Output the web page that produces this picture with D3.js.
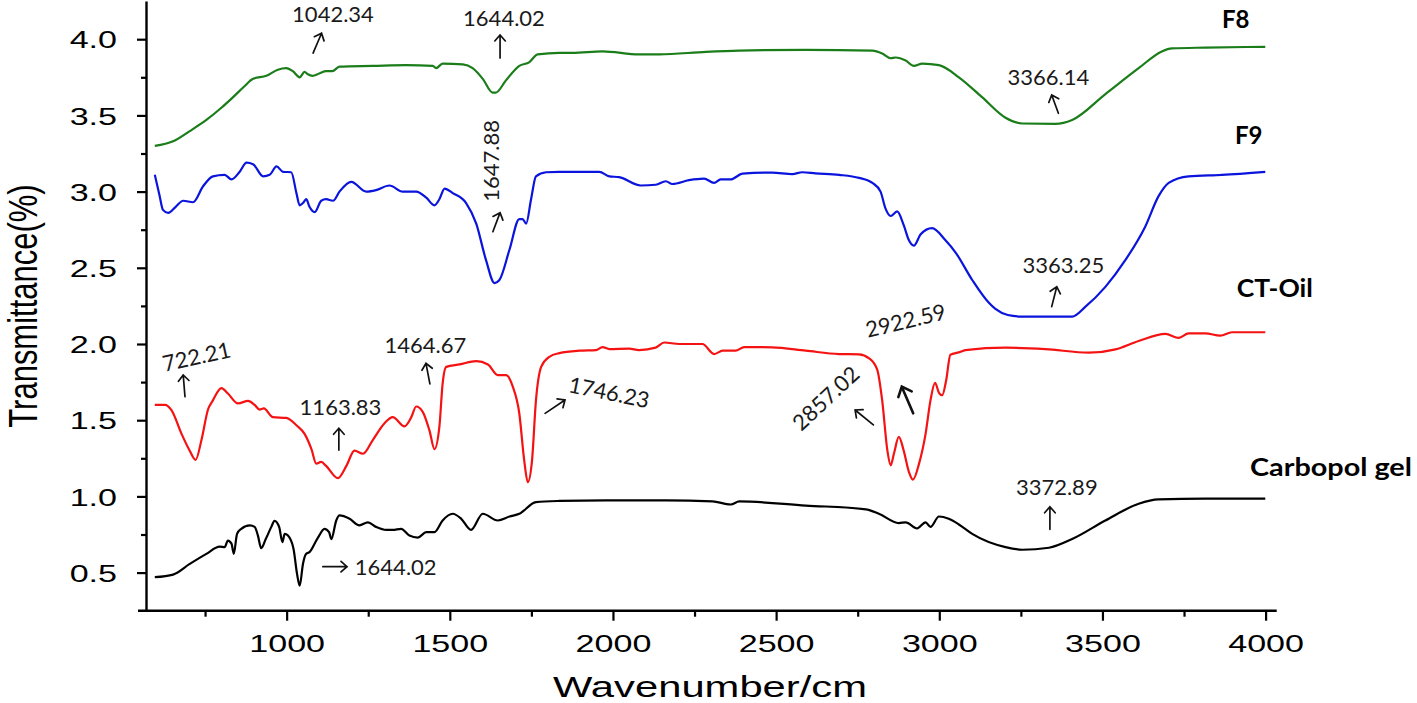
<!DOCTYPE html>
<html><head><meta charset="utf-8">
<script src="https://cdn.jsdelivr.net/npm/d3@7"></script>
<style>body{margin:0;background:#fff;} svg{display:block;}</style>
</head><body><svg id="chart" width="1417" height="703"></svg>
<script>
// ---- data: [wavenumber (cm-1), transmittance] ----
const f8 = [[596,3.30],[652,3.33],[703,3.397],[754,3.47],[800,3.55],[836,3.62],[870,3.69],[897,3.74],[938,3.76],[973,3.80],[999,3.81],[1019,3.79],[1040,3.75],[1055,3.785],[1065,3.77],[1079,3.76],[1100,3.775],[1121,3.79],[1140,3.79],[1162,3.82],[1264,3.825],[1366,3.83],[1448,3.825],[1458,3.81],[1478,3.84],[1540,3.835],[1570,3.81],[1601,3.74],[1631,3.65],[1641,3.65],[1672,3.73],[1713,3.825],[1744,3.85],[1769,3.90],[1836,3.91],[1876,3.91],[1968,3.92],[2080,3.90],[2142,3.90],[2285,3.917],[2387,3.925],[2591,3.93],[2795,3.925],[2825,3.906],[2851,3.875],[2866,3.88],[2897,3.86],[2922,3.825],[2948,3.84],[2999,3.83],[3060,3.75],[3131,3.62],[3203,3.485],[3254,3.447],[3356,3.445],[3407,3.47],[3509,3.64],[3611,3.81],[3682,3.92],[3713,3.94],[3815,3.945],[3999,3.95]];
const f9 = [[596,3.11],[610,2.98],[621,2.88],[637,2.86],[660,2.90],[683,2.94],[713,2.93],[744,3.035],[774,3.10],[810,3.11],[831,3.08],[856,3.13],[877,3.19],[897,3.18],[928,3.10],[948,3.11],[969,3.165],[989,3.13],[1014,3.127],[1030,2.99],[1040,2.91],[1050,2.925],[1060,2.95],[1070,2.90],[1086,2.865],[1106,2.94],[1121,2.95],[1142,2.94],[1162,3.0],[1198,3.064],[1244,3.0],[1274,3.01],[1315,3.04],[1356,3.0],[1397,3.0],[1428,2.96],[1453,2.91],[1468,2.95],[1484,3.02],[1509,2.99],[1550,2.925],[1581,2.79],[1611,2.55],[1637,2.40],[1652,2.42],[1683,2.62],[1713,2.82],[1723,2.82],[1734,2.79],[1749,2.95],[1764,3.10],[1795,3.127],[1836,3.13],[1958,3.13],[1989,3.10],[2019,3.095],[2085,3.04],[2131,3.045],[2162,3.068],[2182,3.05],[2233,3.075],[2279,3.085],[2310,3.057],[2330,3.08],[2361,3.08],[2397,3.118],[2488,3.125],[2550,3.115],[2580,3.127],[2621,3.12],[2693,3.11],[2754,3.09],[2795,3.057],[2820,3.0],[2835,2.89],[2851,2.84],[2871,2.87],[2891,2.78],[2907,2.68],[2922,2.645],[2943,2.72],[2978,2.76],[3019,2.68],[3050,2.60],[3101,2.42],[3152,2.27],[3172,2.23],[3210,2.19],[3254,2.18],[3407,2.18],[3448,2.245],[3509,2.375],[3570,2.55],[3631,2.77],[3672,2.97],[3703,3.057],[3764,3.10],[3866,3.11],[3999,3.13]];
const ctOil = [[596,1.60],[627,1.60],[647,1.566],[678,1.41],[703,1.30],[721,1.24],[739,1.37],[759,1.57],[774,1.63],[800,1.71],[820,1.675],[851,1.61],[882,1.627],[902,1.60],[917,1.57],[930,1.577],[958,1.52],[999,1.515],[1030,1.467],[1055,1.41],[1076,1.31],[1091,1.215],[1106,1.226],[1121,1.20],[1157,1.12],[1183,1.20],[1208,1.30],[1234,1.28],[1264,1.37],[1300,1.48],[1325,1.52],[1361,1.46],[1382,1.52],[1397,1.59],[1417,1.555],[1438,1.43],[1453,1.31],[1468,1.456],[1478,1.74],[1489,1.85],[1530,1.866],[1581,1.888],[1617,1.866],[1647,1.796],[1673,1.796],[1693,1.72],[1713,1.544],[1728,1.237],[1739,1.094],[1752,1.237],[1764,1.63],[1780,1.85],[1805,1.916],[1836,1.94],[1897,1.956],[1948,1.96],[1968,1.98],[1989,1.967],[2050,1.97],[2080,1.96],[2131,1.976],[2157,2.01],[2203,2.0],[2274,2.0],[2310,1.934],[2336,1.956],[2376,1.956],[2402,1.98],[2488,1.978],[2591,1.956],[2693,1.934],[2754,1.932],[2785,1.906],[2810,1.83],[2825,1.63],[2841,1.30],[2851,1.204],[2861,1.28],[2876,1.39],[2891,1.30],[2907,1.16],[2919,1.11],[2938,1.215],[2958,1.41],[2973,1.63],[2987,1.745],[2999,1.68],[3009,1.664],[3021,1.76],[3034,1.93],[3060,1.945],[3080,1.96],[3203,1.976],[3325,1.967],[3458,1.943],[3540,1.965],[3611,2.02],[3693,2.066],[3734,2.04],[3764,2.07],[3815,2.07],[3861,2.055],[3897,2.077],[3999,2.077]];
const carbopol = [[596,0.47],[652,0.487],[703,0.557],[754,0.623],[795,0.67],[810,0.667],[820,0.71],[831,0.69],[838,0.623],[848,0.754],[861,0.787],[887,0.81],[902,0.80],[912,0.743],[922,0.66],[936,0.72],[953,0.80],[963,0.84],[977,0.80],[987,0.70],[994,0.754],[1004,0.743],[1021,0.656],[1032,0.49],[1040,0.414],[1050,0.557],[1060,0.623],[1070,0.634],[1096,0.73],[1116,0.787],[1130,0.765],[1137,0.72],[1152,0.842],[1162,0.875],[1193,0.853],[1223,0.81],[1249,0.83],[1274,0.80],[1305,0.78],[1325,0.78],[1351,0.787],[1376,0.743],[1402,0.73],[1428,0.765],[1453,0.765],[1478,0.842],[1509,0.886],[1535,0.853],[1565,0.78],[1601,0.886],[1647,0.842],[1683,0.868],[1713,0.886],[1764,0.963],[1836,0.97],[1979,0.974],[2162,0.974],[2305,0.967],[2361,0.947],[2387,0.967],[2591,0.94],[2775,0.915],[2815,0.886],[2876,0.825],[2897,0.83],[2932,0.79],[2958,0.83],[2973,0.80],[2999,0.868],[3029,0.853],[3060,0.816],[3101,0.754],[3203,0.667],[3254,0.65],[3336,0.663],[3407,0.72],[3509,0.842],[3611,0.952],[3672,0.98],[3815,0.985],[3999,0.985]];

const seriesNames = ["F8", "F9", "CT-Oil", "Carbopol gel"];
const seriesData = [f8, f9, ctOil, carbopol];
const seriesColors = ["#1a7d1a", "#0a14dc", "#f41212", "#000000"];
// label anchors in data units [wavenumber, transmittance]
const seriesLabelAt = [[3866, 4.073], [3906, 3.312], [3912, 2.308], [3952, 1.134]];

const xTicks = [1000, 1500, 2000, 2500, 3000, 3500, 4000];
const xMinorTicks = [750, 1250, 1750, 2250, 2750, 3250, 3750];
const yTicks = [0.5, 1.0, 1.5, 2.0, 2.5, 3.0, 3.5, 4.0];
const yMinorTicks = [0.75, 1.25, 1.75, 2.25, 2.75, 3.25, 3.75];

// peak labels: text, position [wavenumber, transmittance], rotation
const peakText = ["1042.34", "1644.02", "1647.88", "3366.14", "3363.25", "722.21", "1163.83", "1464.67", "1644.02", "1746.23", "2857.02", "2922.59", "3372.89"];
const peakPos = [[1142, 4.113], [1666, 4.087], [1651, 3.201], [3334, 3.699], [3380, 2.466], [724, 1.917], [1165, 1.534], [1425, 1.941], [1209, 0.484], [1988, 1.683], [2652, 1.644], [2897, 2.153], [3360, 1.009]];
const peakRot = [0, 0, -90, 0, 0, -12.4, 0, 0, 0, 11.5, -43, -13.4, 0];
const peakCentered = [false, false, false, false, false, true, false, false, false, true, true, true, false];
const peakAnchor = ["middle", "middle", "middle", "middle", "middle", "middle", "middle", "middle", "start", "middle", "middle", "middle", "middle"];

// arrows: from tail to tip, in data units
const arrowFrom = [[1081, 3.909], [1654, 3.877], [1632, 2.737], [3365, 3.514], [3344.5, 2.245], [688.5, 1.654], [1160, 1.304], [1439, 1.738], [1111, 0.539], [1792, 1.545], [2798, 1.469], [2920, 1.545], [3339, 0.784]];
const arrowTo = [[1107, 4.039], [1654, 4.028], [1654, 2.862], [3344.5, 3.634], [3360, 2.376], [683, 1.797], [1160, 1.447], [1427, 1.873], [1185, 0.539], [1853, 1.633], [2742, 1.567], [2885, 1.72], [3339, 0.932]];
const arrowBig = [false, false, false, false, false, false, false, false, false, false, false, true, false];

// ---- chart ----
const svg = d3.select("#chart");
const x = d3.scaleLinear().domain([569, 4034]).range([146, 1276.7]);
const y = d3.scaleLinear().domain([0.25, 4.25]).range([610.7, 1.1]);
const axisFont = "'Liberation Sans', Arial, sans-serif";
const stretch = 1.42;

// x axis
const gx = svg.append("g").attr("transform", `translate(0,${y(0.25)})`)
  .call(d3.axisBottom(x).tickValues(xTicks).tickSize(10).tickSizeOuter(0).tickFormat(d3.format("d")));
gx.select(".domain").remove();
gx.selectAll(".tick line").attr("stroke", "#000").attr("stroke-width", 2.2);
gx.selectAll(".tick text").attr("y", 41).attr("dy", 0)
  .attr("transform", `scale(${stretch},1)`)
  .style("font-family", axisFont).style("font-size", "24px").attr("fill", "#000");
const gxm = svg.append("g").attr("transform", `translate(0,${y(0.25)})`)
  .call(d3.axisBottom(x).tickValues(xMinorTicks).tickSize(6).tickFormat(""));
gxm.select(".domain").remove();
gxm.selectAll(".tick line").attr("stroke", "#000").attr("stroke-width", 2.2);
svg.append("line").attr("x1", x.range()[0] - 8).attr("x2", x.range()[1])
  .attr("y1", y(0.25)).attr("y2", y(0.25)).attr("stroke", "#000").attr("stroke-width", 2.4);

// y axis
const gy = svg.append("g").attr("transform", `translate(${x(569)},0)`)
  .call(d3.axisLeft(y).tickValues(yTicks).tickSize(9).tickSizeOuter(0).tickFormat(d3.format(".1f")));
gy.select(".domain").attr("stroke", "#000").attr("stroke-width", 2.4);
gy.selectAll(".tick line").attr("stroke", "#000").attr("stroke-width", 2.2);
gy.selectAll(".tick text").attr("x", -29 / stretch).attr("dy", "0.36em")
  .attr("transform", `scale(${stretch},1)`)
  .style("font-family", axisFont).style("font-size", "24px").attr("fill", "#000");
const gym = svg.append("g").attr("transform", `translate(${x(569)},0)`)
  .call(d3.axisLeft(y).tickValues(yMinorTicks).tickSize(5).tickFormat(""));
gym.select(".domain").remove();
gym.selectAll(".tick line").attr("stroke", "#000").attr("stroke-width", 2.2);

// axis titles
svg.append("text").text("Transmittance(%)")
  .attr("transform", `translate(37,306) scale(1.3,1) rotate(-90)`)
  .attr("text-anchor", "middle")
  .style("font-family", axisFont).style("font-size", "31px").attr("fill", "#000");
svg.append("text").text("Wavenumber/cm")
  .attr("transform", `translate(710,697) scale(1.44,1)`)
  .attr("text-anchor", "middle")
  .style("font-family", axisFont).style("font-size", "29px").attr("fill", "#000");

// spectra
const line = d3.line().x(d => x(d[0])).y(d => y(d[1])).curve(d3.curveMonotoneX);
svg.append("g").selectAll("path").data(seriesData).join("path")
  .attr("d", line).attr("fill", "none")
  .attr("stroke", (d, i) => seriesColors[i]).attr("stroke-width", 2.2)
  .attr("stroke-linejoin", "round");

// series labels
svg.append("g").selectAll("text").data(seriesNames).join("text")
  .text(d => d)
  .attr("x", (d, i) => x(seriesLabelAt[i][0]))
  .attr("y", (d, i) => y(seriesLabelAt[i][1]))
  .style("font-family", "Lato, 'Open Sans', sans-serif").style("font-weight", "bold")
  .style("font-size", "24px").attr("fill", "#000")
  .attr("textLength", (d, i) => i === 3 ? 162 : (i === 2 ? 76 : null))
  .attr("lengthAdjust", "spacingAndGlyphs");

// peak labels
svg.append("g").selectAll("text").data(peakText).join("text")
  .text(d => d)
  .attr("transform", (d, i) => `translate(${x(peakPos[i][0])},${y(peakPos[i][1])}) rotate(${peakRot[i]})`)
  .attr("dy", (d, i) => peakCentered[i] ? "0.36em" : 0)
  .attr("text-anchor", (d, i) => peakAnchor[i])
  .style("font-family", "Lato, 'Open Sans', sans-serif").style("font-size", "22px")
  .attr("fill", "#1a1a1a");

// arrows
const ag = svg.append("g").attr("fill", "none").attr("stroke", "#111").attr("stroke-linecap", "round");
arrowFrom.forEach((f, i) => {
  const x0 = x(f[0]), y0 = y(f[1]), x1 = x(arrowTo[i][0]), y1 = y(arrowTo[i][1]);
  const a = Math.atan2(y1 - y0, x1 - x0);
  const h = arrowBig[i] ? 11 : 8, s = 0.72;
  const p = `M${x0},${y0}L${x1},${y1}` +
    `M${x1 - h * Math.cos(a - s)},${y1 - h * Math.sin(a - s)}L${x1},${y1}` +
    `L${x1 - h * Math.cos(a + s)},${y1 - h * Math.sin(a + s)}`;
  ag.append("path").attr("d", p).attr("stroke-width", arrowBig[i] ? 2.6 : 1.7);
});
</script></body></html>
